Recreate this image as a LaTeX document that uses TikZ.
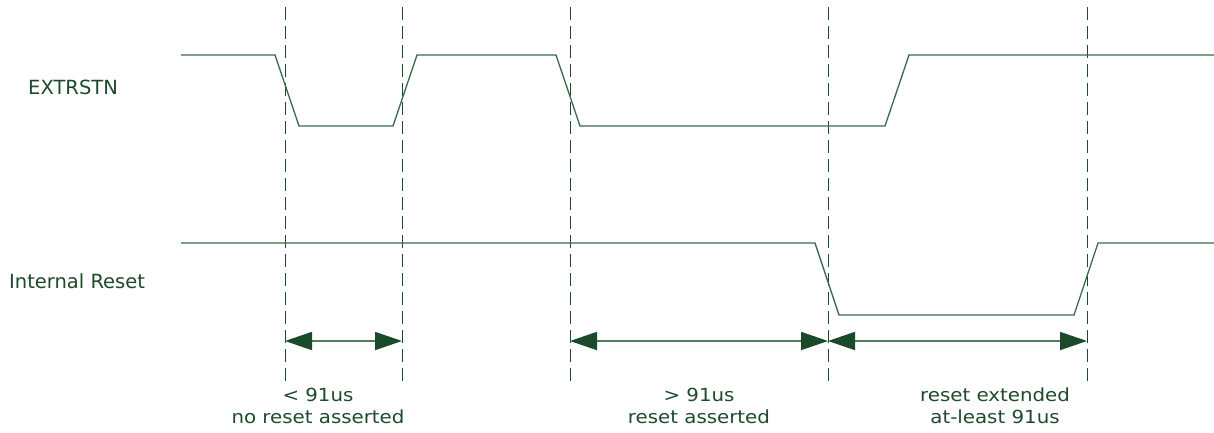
\documentclass[tikz,border=0pt]{standalone}
\usepackage{fontspec}
\setmainfont{DejaVu Sans}
\newfontfamily\durfont[FakeStretch=1.1]{DejaVu Sans}
\usetikzlibrary{arrows.meta}
\definecolor{txtgreen}{HTML}{1E4A2C}
\definecolor{sigline}{HTML}{3B6A4B}
\definecolor{dashgreen}{HTML}{1E4A2C}
\definecolor{shaft}{HTML}{4F7D5E}
\definecolor{tipgreen}{HTML}{1B4A2B}
\tikzset{
  sig/.style={draw=sigline, line width=1.3pt, line join=miter},
  guide/.style={draw=dashgreen, line width=1pt, dash pattern=on 13pt off 6pt},
  dim/.style={draw=shaft, line width=1.8pt,
    {Triangle[length=27pt,width=18pt,color=tipgreen]}-{Triangle[length=27pt,width=18pt,color=tipgreen]}},
  siglabel/.style={text=txtgreen, font=\fontsize{19.5}{23}\selectfont, anchor=base west, inner sep=0pt},
  durlabel/.style={text=txtgreen, font=\durfont\fontsize{18}{21.5}\selectfont, align=center, anchor=north, inner sep=0pt}
}
\begin{document}
\begin{tikzpicture}[x=1pt,y=-1pt]
\path[use as bounding box, fill=white] (0,0) rectangle (1214,432);

% dashed guides
\foreach \n/\x in {1/285,2/402,3/570,4/828,5/1087}{
  \coordinate (g\n t) at (\x,7);
  \coordinate (g\n b) at (\x,385);
  \coordinate (m\n) at (\x,341);
}
\foreach \n in {1,...,5}{ \draw[guide] (g\n t) -- (g\n b); }

% labels
\node[siglabel] (lext) at (28,94) {EXTRSTN};
\node[siglabel] (lint) at (9,288) {Internal Reset};

% EXTRSTN waveform
\draw[sig] (181,55) -- (275,55) -- (299,126) -- (393,126) -- (417,55) -- (556,55)
  -- (580,126) -- (885,126) -- (909,55) -- (1214,55);

% Internal Reset waveform
\draw[sig] (181,243) -- (815,243) -- (839,315) -- (1074,315) -- (1098,243) -- (1214,243);

% dimension arrows
\draw[dim] (m1) -- (m2);
\draw[dim] (m3) -- (m4);
\draw[dim] (m4) -- (m5);

% duration labels
\node[durlabel] (d1) at (318,388) {< 91us\\no reset asserted};
\node[durlabel] (d2) at (699,388) {> 91us\\reset asserted};
\node[durlabel] (d3) at (995,388) {reset extended\\at-least 91us};
\end{tikzpicture}
\end{document}
